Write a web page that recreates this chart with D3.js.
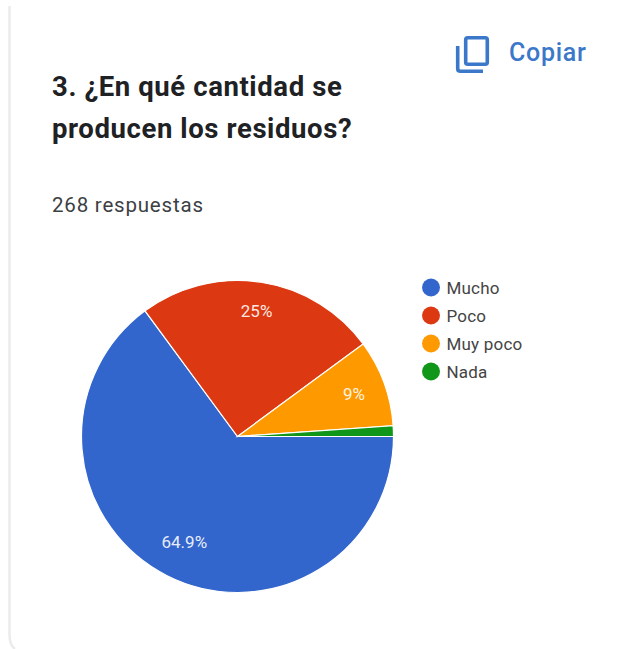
<!DOCTYPE html>
<html lang="es">
<head>
<meta charset="utf-8">
<script src="https://cdn.jsdelivr.net/npm/d3@7"></script>
<style>
  html, body { margin: 0; padding: 0; background: #fff; }
  svg { display: block; }
  text { font-family: Roboto, sans-serif; }
</style>
</head>
<body>
<svg id="chart" width="629" height="649"></svg>
<script>
const categories = ["Mucho", "Poco", "Muy poco", "Nada"];
const shares = [64.9, 25, 9, 1.1];
const shareLabels = ["64.9%", "25%", "9%", ""];
const colors = ["#3366cc", "#dc3912", "#ff9900", "#109618"];
const titleLines = ["3. ¿En qué cantidad se", "producen los residuos?"];
const responses = "268 respuestas";
const copyLabel = "Copiar";

const svg = d3.select("#chart");

// Card outline: only the left edge and its lower corner are visible
svg.append("path")
  .attr("d", "M9.5,6 V634 Q9.5,645 15,649")
  .attr("fill", "none")
  .attr("stroke", "#ebebeb")
  .attr("stroke-width", 2.5);

// Heading
svg.append("g").selectAll("text").data(titleLines).join("text")
  .attr("x", 52)
  .attr("y", (d, i) => 96 + i * 41.7)
  .attr("font-size", 27.5)
  .attr("font-weight", 700)
  .attr("letter-spacing", 0.6)
  .attr("fill", "#202124")
  .text(d => d);

svg.append("text")
  .attr("x", 52).attr("y", 212)
  .attr("font-size", 20.5)
  .attr("letter-spacing", 0.8)
  .attr("fill", "#3c4043")
  .text(responses);

// Copy button
const copy = svg.append("g").attr("fill", "none").attr("stroke", "#3b78c9")
  .attr("stroke-width", 3.6);
copy.append("rect").attr("x", 465.7).attr("y", 37.7).attr("width", 21.6).attr("height", 26.5).attr("rx", 2);
copy.append("path").attr("d", "M457.7,46 V68.5 Q457.7,71.3 460.5,71.3 H483");
svg.append("text")
  .attr("x", 509).attr("y", 61)
  .attr("font-size", 25)
  .attr("font-weight", 500)
  .attr("letter-spacing", 0.7)
  .attr("fill", "#3b78c9")
  .text(copyLabel);

// Pie, clockwise from the three o'clock position
const cx = 237.5, cy = 436.5, radius = 156;
const pie = d3.pie().sort(null).startAngle(Math.PI / 2).endAngle(Math.PI * 2.5);
const arcs = pie(shares);
const arc = d3.arc().innerRadius(0).outerRadius(radius);
const labelRadius = [0.756, 0.814, 0.795, 0.8].map(f => f * radius);

const plot = svg.append("g").attr("transform", `translate(${cx},${cy})`);
plot.selectAll("path").data(arcs).join("path")
  .attr("d", arc)
  .attr("fill", (d, i) => colors[i])
  .attr("stroke", "#fff")
  .attr("stroke-width", 1.2);

plot.selectAll("text").data(arcs).join("text")
  .attr("transform", (d, i) => {
    const r = labelRadius[i];
    return `translate(${d3.arc().innerRadius(r).outerRadius(r).centroid(d)})`;
  })
  .attr("text-anchor", "middle")
  .attr("dy", "0.36em")
  .attr("font-size", 17)
  .attr("fill", "#fff")
  .attr("fill-opacity", 0.9)
  .text((d, i) => shareLabels[i]);

// Legend
const legendY = d3.scalePoint().domain(categories).range([287.5, 371.5]);
const legend = svg.append("g").selectAll("g").data(categories).join("g")
  .attr("transform", d => `translate(431,${legendY(d)})`);
legend.append("circle").attr("r", 9).attr("fill", (d, i) => colors[i]);
legend.append("text")
  .attr("x", 15.5).attr("dy", "0.36em")
  .attr("font-size", 17)
  .attr("letter-spacing", 0.2)
  .attr("fill", "#444")
  .text(d => d);
</script>
</body>
</html>
